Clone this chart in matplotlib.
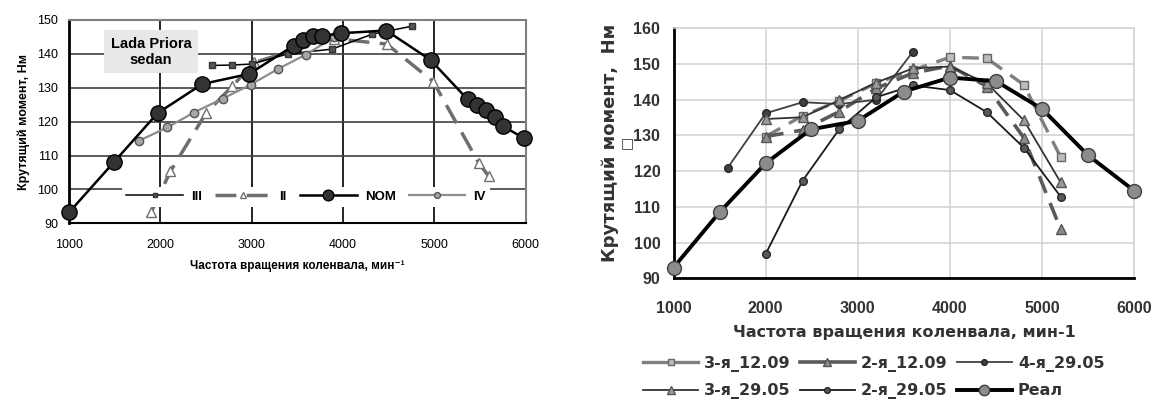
import matplotlib
matplotlib.use("Agg")
import matplotlib.pyplot as plt

# ---- left chart: Lada Priora sedan ----
nom_x = [1000, 1490, 1970, 2460, 2975, 3460, 3565, 3675, 3775, 3980, 4475, 4960, 5365, 5470, 5570, 5670, 5755, 5980]
nom_y = [93.2, 108.0, 122.5, 131.1, 134.1, 142.4, 144.1, 145.3, 145.3, 146.1, 146.9, 138.2, 126.6, 124.8, 123.5, 121.5, 118.7, 115.1]

iii_x = [2570, 2780, 3000, 3400, 3880, 4320, 4760]
iii_y = [136.6, 136.7, 137.0, 140.0, 141.4, 145.8, 148.2]

ii_x = [1900, 2110, 2500, 2790, 3030, 3900, 4480, 4990, 5490, 5595]
ii_y = [93.3, 105.3, 122.5, 130.5, 137.5, 144.5, 142.9, 131.8, 107.7, 104.0]

iv_x = [1770, 2077, 2369, 2683, 2990, 3292, 3595, 3902]
iv_y = [114.4, 118.3, 122.7, 126.8, 130.9, 135.6, 139.8, 144.9]

# ---- right chart ----
real_x = [1000, 1500, 2000, 2490, 3000, 3500, 4000, 4500, 5000, 5500, 6000]
real_y = [93.0, 108.5, 122.2, 131.7, 134.1, 142.3, 146.2, 145.2, 137.4, 124.4, 114.5]

s3_1209_x = [2000, 2400, 2800, 3200, 3600, 4000, 4400, 4800, 5200]
s3_1209_y = [129.7, 135.5, 139.7, 144.6, 148.3, 151.9, 151.6, 144.2, 124.0]

s2_1209_x = [2000, 2400, 2800, 3200, 3600, 4000, 4400, 4800, 5200]
s2_1209_y = [129.7, 131.5, 136.7, 143.2, 147.5, 149.5, 143.7, 129.4, 103.8]

s4_2905_x = [1590, 2000, 2400, 2800, 3200, 3600]
s4_2905_y = [121.0, 136.2, 139.3, 138.8, 140.0, 153.5]

s3_2905_x = [2000, 2400, 2800, 3200, 3600, 4000, 4400, 4800, 5200]
s3_2905_y = [134.6, 135.1, 139.9, 144.8, 148.8, 149.3, 144.6, 134.3, 116.9]

s2_2905_x = [2000, 2400, 2800, 3200, 3600, 4000, 4400, 4800, 5200]
s2_2905_y = [96.8, 117.3, 131.8, 140.7, 144.0, 142.7, 136.5, 126.6, 112.9]

W, H = 1152, 419
fig = plt.figure(figsize=(W / 100, H / 100), dpi=100)
LIB = ['Liberation Sans', 'DejaVu Sans']

# ================= left =================
ax1 = fig.add_axes([69 / W, 1 - 223.3 / H, 456.5 / W, 203.3 / H])
ax1.set_xlim(1000, 6000)
ax1.set_ylim(90, 150)
ax1.set_xticks(range(1000, 6001, 1000))
ax1.set_yticks(range(90, 151, 10))
ax1.grid(axis='y', color='#404040', lw=1.2)
ax1.grid(axis='x', color='black', lw=1.2)
ax1.set_axisbelow(True)
for side in ['top', 'right']:
    ax1.spines[side].set_color('#808080')
    ax1.spines[side].set_linewidth(1.5)
ax1.spines['left'].set_linewidth(2)
ax1.spines['bottom'].set_linewidth(1.5)
ax1.tick_params(axis='y', length=0, labelsize=9, pad=8)
ax1.tick_params(axis='x', length=0, labelsize=9, pad=11)
for lab in ax1.get_xticklabels() + ax1.get_yticklabels():
    lab.set_fontfamily(LIB)

l_iii, = ax1.plot(iii_x, iii_y, color='black', lw=1.1, marker='s', ms=5,
                  mfc='#555555', mec='#333333', label='III', zorder=3)
l_ii, = ax1.plot(ii_x, ii_y, color='#6e6e6e', lw=2.5, ls=(0, (6, 3)), marker='^', ms=7,
                 mfc='white', mec='#707070', mew=1, label='II', zorder=2)
l_nom, = ax1.plot(nom_x, nom_y, color='black', lw=1.8, marker='o', ms=11,
                  mfc='#333333', mec='black', label='NOM', zorder=4, clip_on=False)
l_iv, = ax1.plot(iv_x, iv_y, color='#8c8c8c', lw=1.6, marker='o', ms=6,
                 mfc='#a6a6a6', mec='#555555', label='IV', zorder=3)

ax1.text(1898, 140.6, 'Lada Priora\nsedan', ha='center', va='center',
         fontsize=10.5, fontweight='bold', family=LIB, linespacing=1.15,
         bbox=dict(facecolor='#e8e8e8', edgecolor='none', boxstyle='square,pad=0.45'),
         zorder=5)

ax1.legend(handles=[l_iii, l_ii, l_nom, l_iv], ncol=4, loc='center',
           bbox_to_anchor=(306 / W, 1 - 197 / H), bbox_transform=fig.transFigure,
           frameon=True, facecolor='white', edgecolor='none', framealpha=1,
           fancybox=False, handlelength=4.3, columnspacing=1.0, handletextpad=0.6,
           borderpad=0.3, markerscale=0.7,
           prop={'family': LIB, 'weight': 'bold', 'size': 9.5})

ax1.set_ylabel('Крутящий момент, Нм', fontsize=9, fontweight='bold', family=LIB)
ax1.yaxis.set_label_coords(-0.085, 0.5)
ax1.set_xlabel('Частота вращения коленвала, мин⁻¹', fontsize=8.5, fontweight='bold',
               family=LIB, labelpad=7)

# ================= right =================
ax2 = fig.add_axes([673.5 / W, 1 - 278.3 / H, 460.8 / W, 250 / H])
ax2.set_xlim(1000, 6000)
ax2.set_ylim(90, 160)
ax2.set_xticks(range(1000, 6001, 1000))
ax2.set_yticks(range(90, 161, 10))
ax2.grid(color='#d4d4d4', lw=1.2)
ax2.set_axisbelow(True)
for side in ['top', 'right']:
    ax2.spines[side].set_color('#d4d4d4')
    ax2.spines[side].set_linewidth(1.2)
ax2.spines['left'].set_linewidth(2)
ax2.spines['bottom'].set_linewidth(2)
ax2.tick_params(axis='y', length=0, labelsize=11.5, pad=9.5, labelcolor='#333333')
ax2.tick_params(axis='x', length=0, labelsize=11.5, pad=16, labelcolor='#333333')
for lab in ax2.get_xticklabels() + ax2.get_yticklabels():
    lab.set_fontfamily(LIB)
    lab.set_fontweight('bold')

r1, = ax2.plot(s3_1209_x, s3_1209_y, color='#7f7f7f', lw=2.4, ls=(0, (5, 3)), marker='s', ms=6,
               mfc='#bdbdbd', mec='#666666', label='3-я_12.09', zorder=3)
r2, = ax2.plot(s2_1209_x, s2_1209_y, color='#5a5a5a', lw=2.6, ls=(0, (5, 3)), marker='^', ms=7,
               mfc='#8c8c8c', mec='#555555', label='2-я_12.09', zorder=3)
r3, = ax2.plot(s4_2905_x, s4_2905_y, color='#404040', lw=1.3, marker='o', ms=5.5,
               mfc='#404040', mec='#262626', label='4-я_29.05', zorder=3)
r4, = ax2.plot(s3_2905_x, s3_2905_y, color='#333333', lw=1.3, marker='^', ms=7,
               mfc='#9a9a9a', mec='#555555', label='3-я_29.05', zorder=3)
r5, = ax2.plot(s2_2905_x, s2_2905_y, color='#1a1a1a', lw=1.3, marker='o', ms=5.5,
               mfc='#595959', mec='#262626', label='2-я_29.05', zorder=3)
r6, = ax2.plot(real_x, real_y, color='black', lw=2.8, marker='o', ms=10,
               mfc='#8c8c8c', mec='#404040', label='Реал', zorder=4, clip_on=False)

ax2.set_xlabel('Частота вращения коленвала, мин-1', fontsize=11.5, fontweight='bold',
               color='#333333', labelpad=7)
ax2.set_ylabel('Крутящий момент,  Нм', fontsize=13, fontweight='bold', color='#333333')
ax2.yaxis.set_label_coords(-0.118, 0.543)
fig.text(627 / W, 1 - 143 / H, '□', fontsize=10, ha='center', va='center', color='#333333')

leg2 = ax2.legend(handles=[r1, r4, r2, r5, r3, r6], ncol=3, loc='center',
                  bbox_to_anchor=(874 / W, 1 - 377.5 / H), bbox_transform=fig.transFigure,
                  frameon=False, handlelength=3.4, columnspacing=0.6, handletextpad=0.4,
                  labelspacing=0.7, markerscale=0.75,
                  prop={'weight': 'bold', 'size': 11.5})
for t in leg2.get_texts():
    t.set_color('#333333')
for ln in leg2.get_lines():
    ln.set_linestyle('-')

fig.savefig('out.png', dpi=100)
